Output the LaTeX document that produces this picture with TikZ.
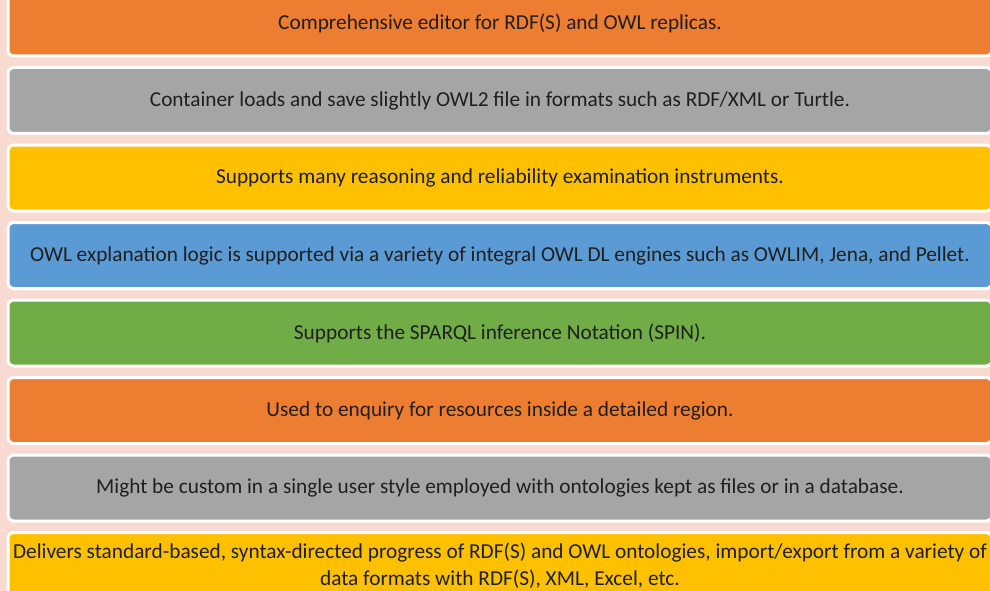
\documentclass[tikz,border=0pt]{standalone}
\usepackage{fontspec}
\setmainfont{Carlito}
\usetikzlibrary{positioning}
\definecolor{bgpink}{HTML}{F9DAD1}
\definecolor{barorange}{HTML}{ED7D31}
\definecolor{bargray}{HTML}{A5A5A5}
\definecolor{baryellow}{HTML}{FFC000}
\definecolor{barblue}{HTML}{5B9BD5}
\definecolor{bargreen}{HTML}{70AD47}
\tikzset{
  bar/.style={rectangle, rounded corners=6pt, draw=white, line width=3pt,
    minimum width=984pt, minimum height=66pt, inner sep=0pt, align=center,
    font=\fontsize{21.3}{27}\selectfont, text=black!88},
}

\begin{document}
\begin{tikzpicture}[x=1pt,y=1pt,node distance=8.5pt]
% canvas
\useasboundingbox (0,0) rectangle (990,-591);
\fill[bgpink] (0,0) rectangle (990,-591);
\clip (0,0) rectangle (990,-591);
% bars
\node[bar, fill=barorange] (editor) at (500,-23) {Comprehensive editor for RDF(S) and OWL replicas.};
\node[bar, fill=bargray, below=of editor] (formats) {Container loads and save slightly OWL2 file in formats such as RDF/XML or Turtle.};
\node[bar, fill=baryellow, below=of formats] (reasoning) {Supports many reasoning and reliability examination instruments.};
\node[bar, fill=barblue, below=of reasoning] (engines) {OWL explanation logic is supported via a variety of integral OWL DL engines such as OWLIM, Jena, and Pellet.};
\node[bar, fill=bargreen, below=of engines] (spin) {Supports the SPARQL inference Notation (SPIN).};
\node[bar, fill=barorange, below=of spin] (enquiry) {Used to enquiry for resources inside a detailed region.};
\node[bar, fill=bargray, below=of enquiry] (custom) {Might be custom in a single user style employed with ontologies kept as files or in a database.};
\node[bar, fill=baryellow, below=of custom] (progress) {Delivers standard-based, syntax-directed progress of RDF(S) and OWL ontologies, import/export from a variety of\\ data formats with RDF(S), XML, Excel, etc.};
\end{tikzpicture}
\end{document}
